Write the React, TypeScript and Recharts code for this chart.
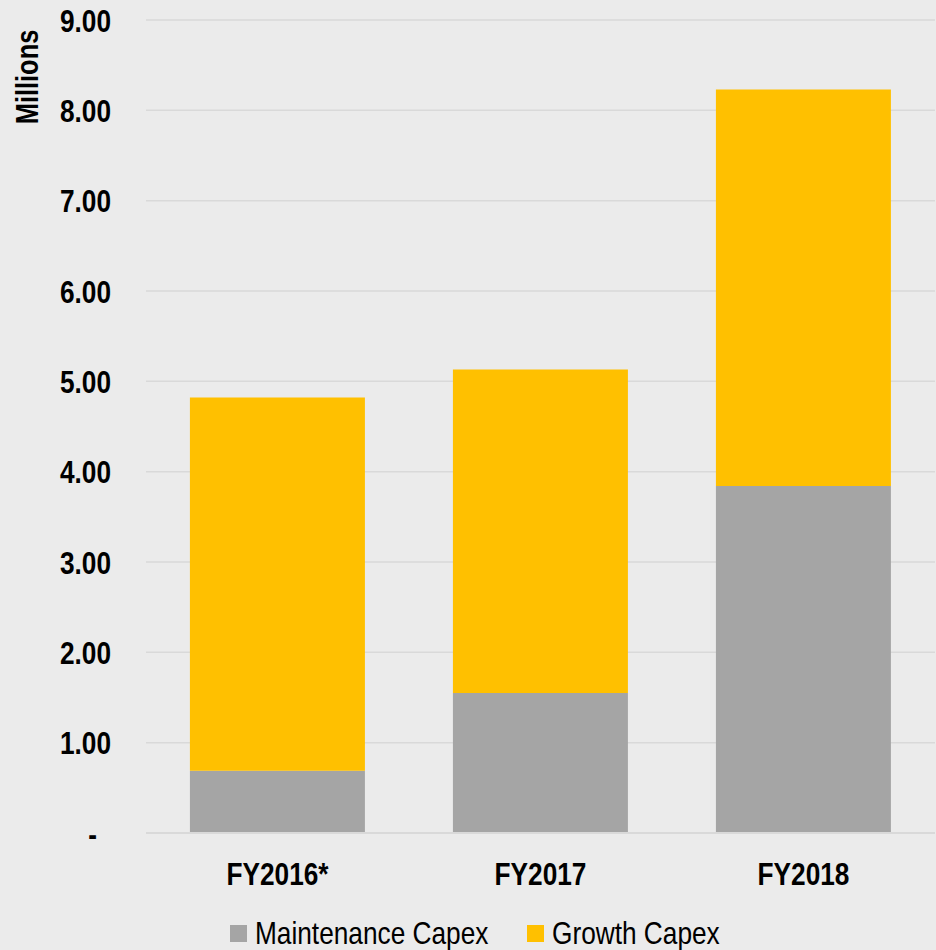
import React from "react";
import { BarChart, Bar, XAxis, YAxis, CartesianGrid, Legend, Label } from "recharts";

const years = ["FY2016*", "FY2017", "FY2018"];
const maintenance = [0.69, 1.55, 3.84];
const growth = [4.13, 3.58, 4.39];
const yTicks = [0, 1, 2, 3, 4, 5, 6, 7, 8, 9];

// no narrow font installed, so squeeze the regular one
const FONT = "'Liberation Sans Narrow', 'Arial Narrow', 'Liberation Sans', Arial, sans-serif";
const NARROW = 0.82;
const GREY = "#a5a5a5";
const GOLD = "#ffc000";

const data = years.map((year, i) => ({
  year,
  maintenance: maintenance[i],
  growth: growth[i],
}));

const YTick = (props: any) => {
  const { x, y, payload } = props;
  const isZero = payload.value === 0;
  const tx = isZero ? x - 14 : x;
  return (
    <text
      transform={`translate(${tx},${y}) scale(${NARROW},1)`}
      dy="0.36em"
      textAnchor="end"
      fontFamily={FONT}
      fontWeight="bold"
      fontSize={32}
      fill="#000"
    >
      {isZero ? "-" : payload.value.toFixed(2)}
    </text>
  );
};

const XTick = (props: any) => {
  const { x, y, payload } = props;
  return (
    <text
      transform={`translate(${x},${y}) scale(${NARROW},1)`}
      dy="0.71em"
      textAnchor="middle"
      fontFamily={FONT}
      fontWeight="bold"
      fontSize={32}
      fill="#000"
    >
      {payload.value}
    </text>
  );
};

const squeezed = (w: number): React.CSSProperties => ({
  display: "inline-block",
  width: w,
  whiteSpace: "nowrap",
  transform: `scaleX(${NARROW})`,
  transformOrigin: "left center",
});

const LegendBox = () => (
  <div style={{ display: "flex", alignItems: "center", fontFamily: FONT, fontSize: 32, color: "#000", paddingLeft: 230 }}>
    <span style={{ display: "inline-block", width: 17, height: 17, background: GREY, marginRight: 8 }} />
    <span style={{ ...squeezed(232), marginRight: 40 }}>Maintenance Capex</span>
    <span style={{ display: "inline-block", width: 17, height: 17, background: GOLD, marginRight: 8 }} />
    <span style={squeezed(166)}>Growth Capex</span>
  </div>
);

const App = () => {
  return (
    <div style={{ position: "absolute", left: 0, top: 0, width: 936, height: 950, background: "#ebebeb" }}>
      <BarChart
        width={936}
        height={950}
        data={data}
        margin={{ top: 20, right: 1, left: 0, bottom: 57 }}
        barCategoryGap="16.7%"
      >
        <CartesianGrid vertical={false} stroke="#d9d9d9" strokeWidth={1.5} />
        <XAxis
          dataKey="year"
          height={60}
          axisLine={{ stroke: "#d9d9d9", strokeWidth: 2 }}
          tickLine={false}
          tickSize={0}
          tickMargin={29}
          tick={<XTick />}
        />
        <YAxis
          width={146}
          domain={[0, 9]}
          ticks={yTicks}
          interval={0}
          axisLine={false}
          tickLine={false}
          tickSize={0}
          tickMargin={35}
          tick={<YTick />}
        >
          <Label
            content={() => (
              <text
                transform={`translate(27,77) rotate(-90) scale(${NARROW},1)`}
                textAnchor="middle"
                dominantBaseline="central"
                fontFamily={FONT}
                fontWeight="bold"
                fontSize={31}
                fill="#000"
              >
                Millions
              </text>
            )}
          />
        </YAxis>
        <Legend verticalAlign="middle" wrapperStyle={{ top: 915, left: 0, width: 936 }} content={<LegendBox />} />
        <Bar dataKey="maintenance" name="Maintenance Capex" stackId="a" fill={GREY} isAnimationActive={false} />
        <Bar dataKey="growth" name="Growth Capex" stackId="a" fill={GOLD} isAnimationActive={false} />
      </BarChart>
    </div>
  );
};

export default App;
